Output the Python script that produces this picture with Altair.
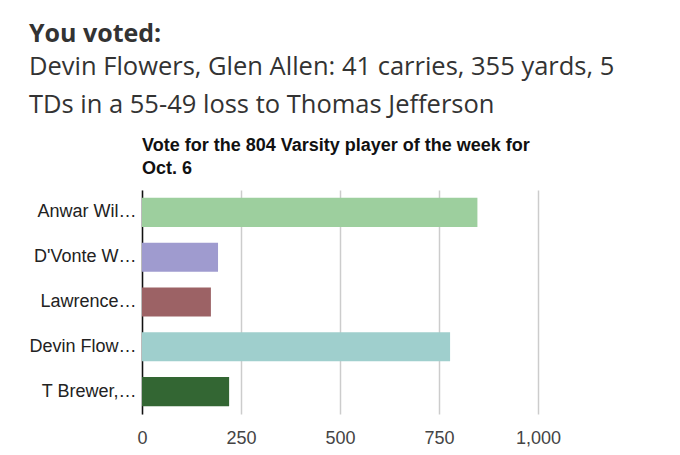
import altair as alt
import pandas as pd

players = ["Anwar Wil…", "D'Vonte W…", "Lawrence…", "Devin Flow…", "T Brewer,…"]
votes = [847, 192, 174, 778, 220]
colors = ["#9dcf9e", "#9f9bcf", "#9c6265", "#9fcfcd", "#336633"]
x_ticks = [0, 250, 500, 750, 1000]

df = pd.DataFrame({"player": players, "votes": votes})

bars = alt.Chart(df).mark_bar().encode(
    y=alt.Y("player:N", sort=players, title=None,
            scale=alt.Scale(paddingInner=0.35, paddingOuter=0.175),
            axis=alt.Axis(labelFont="Arial", labelFontSize=18, labelColor="#222",
                          labelLimit=200, ticks=False, labelPadding=6,
                          domain=True, domainColor="#111", domainWidth=1.5, grid=False)),
    x=alt.X("votes:Q", title=None,
            scale=alt.Scale(domain=[0, 1000], nice=False),
            axis=alt.Axis(values=x_ticks, format=",.0f", labelFont="Arial", labelFontSize=18,
                          labelColor="#444", ticks=False, domain=False, labelPadding=15,
                          labelFlush=False,
                          grid=True, gridColor="#cccccc", gridWidth=1.5)),
    color=alt.Color("player:N", sort=players, scale=alt.Scale(domain=players, range=colors),
                    legend=None),
).properties(
    width=396, height=224,
    view=alt.ViewBackground(strokeWidth=0, stroke="transparent"),
    title=alt.TitleParams(
        text=["Vote for the 804 Varsity player of the week for", "Oct. 6"],
        font="Arial", fontSize=18, fontWeight="bold", color="#111",
        anchor="start", frame="group", lineHeight=23, offset=12,
    ),
)

chart = alt.vconcat(bars).properties(
    title=alt.TitleParams(
        text="You voted:",
        subtitle=["Devin Flowers, Glen Allen: 41 carries, 355 yards, 5",
                  "TDs in a 55-49 loss to Thomas Jefferson"],
        font="Open Sans", fontSize=25, fontWeight="bold", color="#333",
        subtitleFont="Open Sans", subtitleFontSize=25.5, subtitleColor="#333",
        subtitleLineHeight=38, subtitlePadding=8,
        anchor="start", offset=19,
    ),
).configure_view(stroke="transparent", strokeWidth=0).configure(
    padding={"left": 20, "top": 13, "right": 10, "bottom": 5})

chart.save("out.html", embed_options={"renderer": "svg", "actions": False})
